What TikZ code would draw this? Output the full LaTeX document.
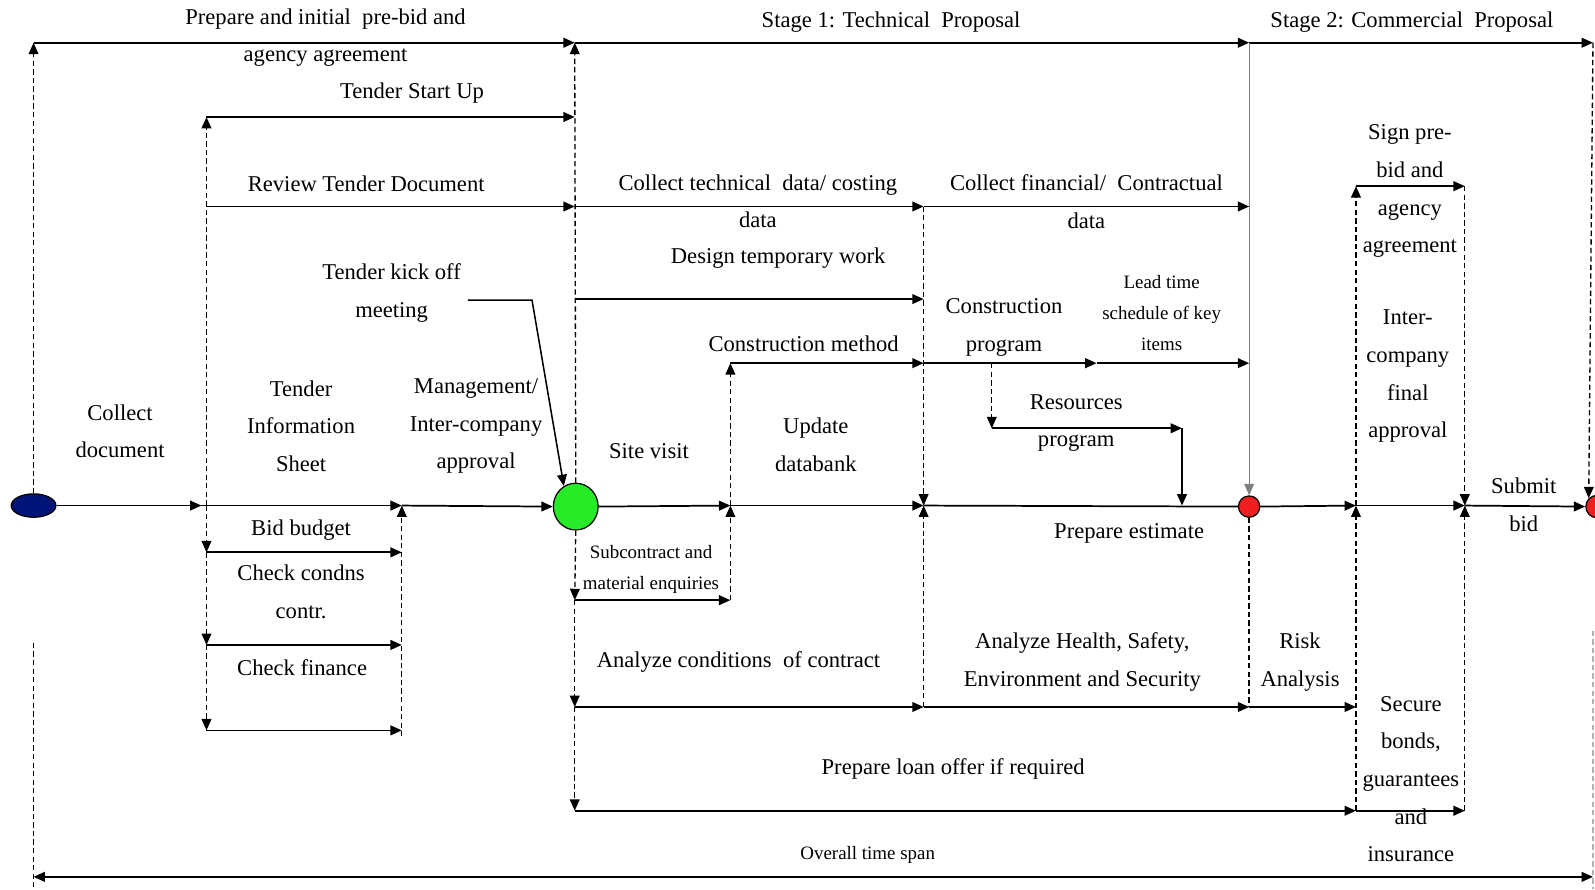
\documentclass[tikz,border=0pt]{standalone}
\usepackage{fontspec}
\setmainfont{Liberation Serif}
\usetikzlibrary{arrows.meta,shapes.geometric}

\tikzset{
  tip/.tip={Triangle[length=5.6bp,width=4.8bp]},
  flow/.style={line width=0.85bp, -tip},
  bothflow/.style={line width=0.85bp, tip-tip},
  plainflow/.style={line width=0.85bp},
  guide/.style={line width=0.65bp, dash pattern=on 2.6bp off 1.6bp},
  guidearr/.style={guide, -tip},
  lbl/.style={font=\fontsize{11.1bp}{18.5bp}\selectfont, align=center, inner sep=0pt},
  small/.style={font=\fontsize{9.3bp}{15.3bp}\selectfont, align=center, inner sep=0pt},
  milestone/.style={draw=black, line width=0.6bp, ellipse, inner sep=0pt},
}

\begin{document}
\begin{tikzpicture}[x=0.5bp,y=-0.5bp]
\useasboundingbox (0,0) rectangle (1568,874);

% ---------- milestones ----------
\node[milestone, fill={rgb,255:red,0;green,20;blue,120}, minimum width=22bp, minimum height=11.5bp] (start) at (33,497) {};
\node[milestone, fill={rgb,255:red,40;green,235;blue,40}, minimum width=22bp, minimum height=23bp] (kick) at (566,498) {};
\node[milestone, fill={rgb,255:red,240;green,30;blue,30}, minimum width=10.5bp, minimum height=10.5bp] (est) at (1228,498) {};
\node[milestone, fill={rgb,255:red,240;green,30;blue,30}, minimum width=11bp, minimum height=11bp] (bid) at (1570,498) {};

% ---------- coordinates ----------
% top stage line
\coordinate (t0) at (33,42);
\coordinate (t1) at (565,42);
\coordinate (t2) at (1228,42);
\coordinate (t3) at (1566,42);
% main time line
\coordinate (m0) at (198,497);
\coordinate (m1) at (203,497);
\coordinate (m2) at (395,497);
\coordinate (m3) at (718,497);
\coordinate (m4) at (908,497);
\coordinate (m5) at (1162,497);
\coordinate (m6) at (1333,497);
\coordinate (m7) at (1440,497);
% tender start up / review tender document
\coordinate (a1) at (203,115);
\coordinate (a2) at (565,115);
\coordinate (b1) at (203,203);
\coordinate (b2) at (565,203);
\coordinate (b3) at (908,203);
\coordinate (b4) at (1228,203);
% design temporary work
\coordinate (c1) at (565,294);
\coordinate (c2) at (908,294);
% construction method / program
\coordinate (d1) at (718,357);
\coordinate (d2) at (908,357);
\coordinate (d3) at (1078,357);
\coordinate (d4) at (1228,357);
\coordinate (f1) at (975,357);
\coordinate (f2) at (975,421);
\coordinate (f3) at (1162,421);
% tender kick off meeting
\coordinate (k1) at (460,295);
\coordinate (k2) at (523,295);
% lower left activities
\coordinate (h1) at (203,543);
\coordinate (h2) at (203,634);
\coordinate (h3) at (203,718);
\coordinate (i1) at (395,543);
\coordinate (i2) at (395,634);
\coordinate (i3) at (395,718);
\coordinate (i4) at (395,724);
% lower middle activities
\coordinate (s1) at (565,590);
\coordinate (s2) at (565,695);
\coordinate (s3) at (565,797);
\coordinate (j1) at (718,590);
\coordinate (j2) at (908,695);
\coordinate (j4) at (1228,695);
\coordinate (j5) at (1333,695);
\coordinate (j3) at (1333,797);
\coordinate (j6) at (1440,797);
% commercial stage
\coordinate (n1) at (1333,183);
\coordinate (n2) at (1440,183);
% overall time span
\coordinate (o1) at (33,862);
\coordinate (o2) at (1566,862);
\coordinate (o1t) at (33,632);
\coordinate (o1b) at (33,874);
\coordinate (o2t) at (1566,620);
\coordinate (o2b) at (1566,874);

% ---------- stage line ----------
\draw[flow] (t0) -- (t1);
\draw[flow] (t1) -- (t2);
\draw[flow] (t2) -- (t3);
\draw[guidearr] (start.north) -- (t0);
\draw[guidearr] (kick.north) -- (t1);
\draw[line width=0.6bp, draw=gray, -tip] (t2) -- (est.north);
\draw[guidearr] (t3) -- (bid.north west);

% ---------- main time line ----------
\draw[flow] (start.east) -- (m0);
\draw[plainflow] (m0) -- (m1);
\draw[flow] (m1) -- (m2);
\draw[flow] (m2) -- (kick.west);
\draw[flow] (kick.east) -- (m3);
\draw[flow] (m3) -- (m4);
\draw[plainflow] (m4) -- (est.west);
\draw[flow] (est.east) -- (m6);
\draw[flow] (m6) -- (m7);
\draw[flow] (m7) -- (bid.west);

% ---------- upper activities ----------
\draw[guidearr] (m1) -- (a1);
\draw[flow] (a1) -- (a2);
\draw[flow] (b1) -- (b2);
\draw[flow] (b2) -- (b3);
\draw[flow] (b3) -- (b4);
\draw[flow] (c1) -- (c2);
\draw[guidearr] (b3) -- (m4);
\draw[guidearr] (m3) -- (d1);
\draw[flow] (d1) -- (d2);
\draw[flow] (d2) -- (d3);
\draw[flow] (d3) -- (d4);
\draw[guidearr] (f1) -- (f2);
\draw[flow] (f2) -- (f3);
\draw[flow] (f3) -- (m5);
\draw[line width=0.75bp, -tip] (k1) -- (k2) -- (kick.120);

% ---------- lower activities ----------
\draw[guidearr] (m1) -- (h1);
\draw[guidearr] (h1) -- (h2);
\draw[guidearr] (h2) -- (h3);
\draw[flow] (h1) -- (i1);
\draw[flow] (h2) -- (i2);
\draw[flow] (h3) -- (i3);
\draw[guidearr] (i4) -- (m2);

\draw[guidearr] (kick.south) -- (s1);
\draw[guidearr] (s1) -- (s2);
\draw[guidearr] (s2) -- (s3);
\draw[flow] (s1) -- (j1);
\draw[guidearr] (j1) -- (m3);
\draw[flow] (s2) -- (j2);
\draw[guidearr] (j2) -- (m4);
\draw[flow] (j2) -- (j4);
\draw[guide] (est.south) -- (j4);
\draw[flow] (j4) -- (j5);
\draw[flow] (s3) -- (j3);
\draw[guidearr] (j3) -- (m6);
\draw[flow] (j3) -- (j6);
\draw[guidearr] (j6) -- (m7);

% ---------- commercial stage ----------
\draw[guidearr] (m6) -- (n1);
\draw[flow] (n1) -- (n2);
\draw[guidearr] (n2) -- (m7);

% ---------- overall time span ----------
\draw[bothflow] (o1) -- (o2);
\draw[guide] (o1t) -- (o1b);
\draw[guide, draw=gray!60] (o2t) -- (o2b);

% ---------- labels ----------
\node[lbl] (l1) at (320,37) {Prepare and initial\ \ pre-bid and\\agency agreement};
\node[lbl] (l2) at (876,22) {Stage 1: Technical\ \ Proposal};
\node[lbl] (l3) at (1388,22) {Stage 2: Commercial\ \ Proposal};
\node[lbl] (l4) at (405,91) {Tender Start Up};
\node[lbl] (l5) at (360,181) {Review Tender Document};
\node[lbl] (l6) at (745,198) {Collect technical\ \ data/ costing\\data};
\node[lbl] (l7) at (1068,198) {Collect financial/\ \ Contractual\\data};
\node[lbl] (l8) at (765,254) {Design temporary work};
\node[lbl] (l9) at (385,288) {Tender kick off\\meeting};
\node[lbl] (l10) at (987,322) {Construction\\program};
\node[small] (l11) at (1142,308) {Lead time\\schedule of key\\items};
\node[lbl] (l12) at (790,338) {Construction method};
\node[lbl] (l13) at (1058,416) {Resources\\program};
\node[lbl] (l14) at (118,424) {Collect\\document};
\node[lbl] (l15) at (296,419) {Tender\\Information\\Sheet};
\node[lbl] (l16) at (468,419) {Management/\\Inter-company\\approval};
\node[lbl] (l17) at (638,443) {Site visit};
\node[lbl] (l18) at (802,437) {Update\\databank};
\node[lbl] (l19) at (1386,188) {Sign pre-\\bid and\\agency\\agreement};
\node[lbl] (l20) at (1384,370) {Inter-\\company\\final\\approval};
\node[lbl] (l21) at (1498,496) {Submit\\bid};
\node[lbl] (l22) at (1110,524) {Prepare estimate};
\node[lbl] (l23) at (296,521) {Bid budget};
\node[lbl] (l24) at (296,582) {Check condns\\contr.};
\node[lbl] (l25) at (297,656) {Check finance};
\node[small] (l26) at (640,560) {Subcontract and\\material enquiries};
\node[lbl] (l27) at (726,651) {Analyze conditions\ \ of contract};
\node[lbl] (l28) at (1064,651) {Analyze Health,\ Safety,\\Environment and Security};
\node[lbl] (l29) at (1278,651) {Risk\\Analysis};
\node[lbl] (l30) at (937,756) {Prepare loan offer if required};
\node[lbl] (l31) at (1387,766) {Secure\\bonds,\\guarantees\\and\\insurance};
\node[small] (l32) at (853,840) {Overall time span};
\end{tikzpicture}
\end{document}
